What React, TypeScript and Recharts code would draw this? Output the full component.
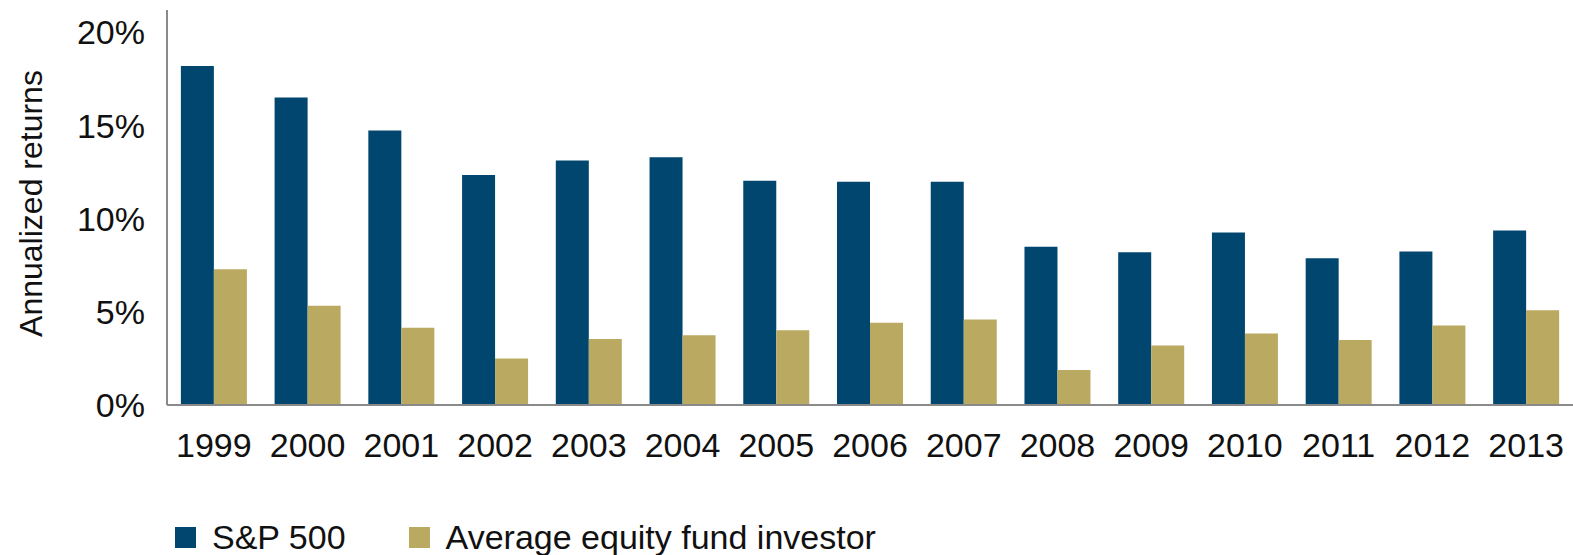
import React from 'react';
import { BarChart, Bar, XAxis, YAxis, Legend } from 'recharts';

const years = ['1999', '2000', '2001', '2002', '2003', '2004', '2005', '2006', '2007', '2008', '2009', '2010', '2011', '2012', '2013'];
const sp500 = [18.19, 16.5, 14.73, 12.34, 13.12, 13.3, 12.04, 11.98, 11.98, 8.5, 8.2, 9.26, 7.88, 8.24, 9.37];
const avgInvestor = [7.28, 5.33, 4.15, 2.5, 3.54, 3.75, 4.01, 4.41, 4.59, 1.88, 3.19, 3.84, 3.49, 4.27, 5.09];
const yTicks = [0, 5, 10, 15, 20];

const NAVY = '#01466f';
const GOLD = '#baa961';
const FONT = '"Liberation Sans", Arial, sans-serif';

const data = years.map((y, i) => ({ year: y, sp: sp500[i], avg: avgInvestor[i] }));

const YLabel = (props: any) => {
  const vb = props.viewBox || { y: 10, height: 395 };
  const cx = 31;
  const cy = vb.y + vb.height / 2 - 4;
  return (
    <text
      x={cx}
      y={cy}
      transform={`rotate(-90, ${cx}, ${cy})`}
      textAnchor="middle"
      dominantBaseline="central"
      fontSize={32}
      fontFamily={FONT}
      fill="#111"
    >
      Annualized returns
    </text>
  );
};

const LegendBox = () => (
  <div style={{ display: 'flex', alignItems: 'center', height: 36, marginLeft: 175, fontFamily: FONT, fontSize: 34, color: '#111' }}>
    <span style={{ width: 21, height: 21, background: NAVY, display: 'inline-block', marginRight: 16 }} />
    <span style={{ marginRight: 63 }}>S&amp;P 500</span>
    <span style={{ width: 21, height: 21, background: GOLD, display: 'inline-block', marginRight: 16 }} />
    <span>Average equity fund investor</span>
  </div>
);

export default function App() {
  return (
    <div style={{ position: 'absolute', left: 0, top: 0, width: 1573, height: 555, background: '#fff' }}>
      <BarChart
        width={1573}
        height={555}
        data={data}
        margin={{ top: 10, right: 0, left: 0, bottom: 0 }}
        barCategoryGap="14.8%"
        barGap={0}
      >
        <XAxis
          dataKey="year"
          height={114}
          tickLine={false}
          tickSize={0}
          tickMargin={28}
          axisLine={{ stroke: '#8a8a8a', strokeWidth: 2 }}
          tick={{ fill: '#111', fontSize: 34, fontFamily: FONT }}
          interval={0}
        />
        <YAxis
          width={167}
          domain={[0, 21.2]}
          ticks={yTicks}
          tickFormatter={(v: number) => `${v}%`}
          tickLine={false}
          tickSize={0}
          tickMargin={22}
          axisLine={{ stroke: '#8a8a8a', strokeWidth: 2 }}
          tick={{ fill: '#111', fontSize: 34, fontFamily: FONT }}
          label={<YLabel />}
        />
        <Legend verticalAlign="bottom" height={36} content={() => <LegendBox />} />
        <Bar dataKey="sp" name="S&P 500" fill={NAVY} isAnimationActive={false} />
        <Bar dataKey="avg" name="Average equity fund investor" fill={GOLD} isAnimationActive={false} />
      </BarChart>
    </div>
  );
}
